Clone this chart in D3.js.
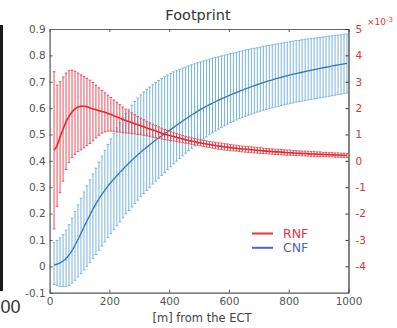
<!DOCTYPE html>
<html><head><meta charset="utf-8">
<script src="https://cdn.jsdelivr.net/npm/d3@7"></script>
<style>
html,body{margin:0;padding:0;background:#fff;}
svg{display:block;font-family:"DejaVu Sans",sans-serif;}
</style></head><body>
<svg id="chart" width="397" height="328"></svg>
<script>
// Sampling positions along the transect [m from the ECT]
const distance = d3.range(15, 1000, 10);

// RNF (right axis, ×10^-3): mean and error-bar bounds
const rnfMean = [
0.40,0.58,0.90,1.20,1.48,1.68,1.85,1.97,2.04,2.07,
2.07,2.05,2.01,1.97,1.94,1.90,1.87,1.84,1.80,1.76,
1.71,1.66,1.62,1.57,1.53,1.49,1.45,1.41,1.37,1.33,
1.29,1.25,1.21,1.17,1.13,1.09,1.05,1.01,0.98,0.95,
0.92,0.89,0.86,0.83,0.80,0.77,0.75,0.73,0.70,0.68,
0.66,0.64,0.62,0.60,0.58,0.56,0.55,0.53,0.52,0.50,
0.49,0.48,0.46,0.45,0.44,0.43,0.42,0.41,0.40,0.39,
0.38,0.37,0.36,0.35,0.34,0.34,0.33,0.32,0.31,0.31,
0.30,0.29,0.29,0.28,0.28,0.27,0.26,0.26,0.25,0.25,
0.24,0.24,0.23,0.23,0.22,0.22,0.21,0.21,0.20];
const rnfHigh = [
3.38,2.87,3.00,3.18,3.33,3.42,3.44,3.40,3.33,3.26,
3.20,3.13,3.06,2.97,2.87,2.77,2.67,2.58,2.49,2.40,
2.31,2.22,2.13,2.04,1.96,1.89,1.82,1.75,1.68,1.62,
1.56,1.50,1.44,1.39,1.34,1.29,1.24,1.19,1.15,1.11,
1.07,1.03,0.99,0.96,0.93,0.90,0.87,0.85,0.82,0.80,
0.78,0.76,0.74,0.72,0.70,0.68,0.67,0.65,0.64,0.62,
0.60,0.59,0.57,0.56,0.55,0.54,0.53,0.52,0.51,0.50,
0.48,0.47,0.46,0.45,0.44,0.44,0.43,0.42,0.41,0.41,
0.39,0.38,0.38,0.37,0.37,0.36,0.35,0.35,0.34,0.34,
0.32,0.32,0.31,0.31,0.30,0.30,0.29,0.29,0.28];
const rnfLow = [
-2.58,-1.72,-1.21,-0.77,-0.33,-0.07,0.12,0.25,0.35,0.42,
0.50,0.58,0.66,0.76,0.87,0.97,1.05,1.10,1.13,1.13,
1.12,1.10,1.09,1.07,1.06,1.05,1.03,1.02,1.00,0.99,
0.97,0.95,0.93,0.90,0.88,0.86,0.83,0.81,0.79,0.77,
0.75,0.73,0.71,0.69,0.67,0.65,0.63,0.61,0.59,0.57,
0.54,0.52,0.50,0.48,0.46,0.44,0.43,0.41,0.40,0.38,
0.38,0.37,0.35,0.34,0.33,0.32,0.31,0.30,0.29,0.28,
0.28,0.27,0.26,0.25,0.24,0.24,0.23,0.22,0.21,0.21,
0.21,0.20,0.20,0.19,0.19,0.18,0.17,0.17,0.16,0.16,
0.16,0.16,0.15,0.15,0.14,0.14,0.13,0.13,0.12];

// CNF (left axis): mean and error-bar bounds
const cnfMean = [
0.005,0.008,0.013,0.020,0.030,0.043,0.060,0.080,0.102,0.125,
0.149,0.172,0.195,0.217,0.237,0.256,0.273,0.289,0.304,0.318,
0.331,0.344,0.356,0.368,0.380,0.391,0.402,0.413,0.423,0.433,
0.443,0.452,0.461,0.470,0.479,0.487,0.495,0.503,0.511,0.519,
0.527,0.535,0.543,0.551,0.559,0.566,0.574,0.581,0.588,0.595,
0.601,0.607,0.613,0.619,0.624,0.630,0.635,0.640,0.645,0.650,
0.655,0.659,0.664,0.668,0.673,0.677,0.681,0.685,0.689,0.693,
0.697,0.700,0.704,0.707,0.711,0.714,0.717,0.720,0.723,0.726,
0.729,0.731,0.734,0.736,0.739,0.741,0.744,0.746,0.748,0.751,
0.753,0.755,0.757,0.760,0.762,0.764,0.766,0.768,0.770];
const cnfHigh = [
0.090,0.098,0.108,0.120,0.137,0.158,0.182,0.208,0.233,0.258,
0.282,0.305,0.328,0.350,0.372,0.395,0.418,0.440,0.462,0.483,
0.504,0.525,0.545,0.563,0.580,0.596,0.611,0.625,0.638,0.650,
0.661,0.671,0.680,0.689,0.697,0.705,0.712,0.719,0.725,0.731,
0.737,0.742,0.747,0.752,0.756,0.760,0.764,0.768,0.772,0.775,
0.779,0.782,0.786,0.789,0.792,0.795,0.798,0.801,0.804,0.807,
0.809,0.812,0.815,0.817,0.820,0.822,0.825,0.827,0.829,0.831,
0.834,0.836,0.838,0.840,0.842,0.844,0.846,0.848,0.850,0.852,
0.854,0.856,0.857,0.859,0.861,0.862,0.864,0.865,0.867,0.868,
0.870,0.871,0.873,0.874,0.876,0.877,0.878,0.880,0.881];
const cnfLow = [
-0.069,-0.073,-0.076,-0.077,-0.076,-0.072,-0.064,-0.053,-0.040,-0.028,
-0.014,0.000,0.014,0.029,0.045,0.061,0.077,0.093,0.109,0.124,
0.139,0.154,0.169,0.184,0.199,0.212,0.225,0.238,0.251,0.264,
0.276,0.288,0.300,0.312,0.323,0.334,0.345,0.356,0.367,0.378,
0.389,0.399,0.409,0.419,0.429,0.439,0.448,0.457,0.466,0.475,
0.483,0.491,0.499,0.506,0.513,0.520,0.527,0.533,0.539,0.545,
0.550,0.555,0.560,0.565,0.569,0.573,0.577,0.581,0.585,0.588,
0.592,0.595,0.598,0.601,0.604,0.607,0.610,0.613,0.615,0.618,
0.620,0.623,0.625,0.627,0.629,0.631,0.633,0.635,0.637,0.639,
0.641,0.643,0.645,0.647,0.649,0.651,0.653,0.655,0.657];

const xTicks = [0, 200, 400, 600, 800, 1000];
const leftTicks = [-0.1, 0, 0.1, 0.2, 0.3, 0.4, 0.5, 0.6, 0.7, 0.8, 0.9];
const rightTicks = [-4, -3, -2, -1, 0, 1, 2, 3, 4, 5];
const legendNames = ["RNF", "CNF"];
const legendColors = ["#e8353a", "#5560cc"];

const svg = d3.select("#chart");
const L = 49.6, R = 348.5, T = 29, B = 292.7;

const x = d3.scaleLinear().domain([0, 1000]).range([L, R]);
const yL = d3.scaleLinear().domain([-0.1, 0.9]).range([B, T]);
const yR = d3.scaleLinear().domain([-5, 5]).range([B, T]);

// plain hyphen for negative tick labels
const hyphen = f => d => f(d).replace("\u2212", "-");

// neighbouring panel edge on the left
svg.append("rect").attr("x", 0).attr("y", 25).attr("width", 3).attr("height", 266).attr("fill", "#1a1a1a");
svg.append("text").attr("x", 0.5).attr("y", 313).attr("text-anchor", "start")
  .attr("font-family", "Liberation Sans").attr("font-size", 18).attr("fill", "#333").text("00");

// error bars + mean line for one series
function drawSeries(mean, lo, hi, y, barColor, lineColor, lineW) {
  const g = svg.append("g");
  const cap = 1.3;
  distance.forEach((d, i) => {
    const xp = x(d);
    g.append("line").attr("x1", xp).attr("x2", xp)
      .attr("y1", y(lo[i])).attr("y2", y(hi[i]))
      .attr("stroke", barColor).attr("stroke-width", 0.95);
    [lo[i], hi[i]].forEach(v => {
      g.append("line").attr("x1", xp - cap).attr("x2", xp + cap)
        .attr("y1", y(v)).attr("y2", y(v))
        .attr("stroke", barColor).attr("stroke-width", 0.95);
    });
  });
  const line = d3.line().x((d, i) => x(distance[i])).y(d => y(d)).curve(d3.curveMonotoneX);
  g.append("path").datum(mean).attr("d", line)
    .attr("fill", "none").attr("stroke", lineColor).attr("stroke-width", lineW);
}

drawSeries(cnfMean, cnfLow, cnfHigh, yL, "#6eb0df", "#3475b3", 1.3);
drawSeries(rnfMean, rnfLow, rnfHigh, yR, "#e94550", "#e8262c", 1.6);

// axes
const tickFont = 10.5;
const gLeft = svg.append("g").attr("transform", `translate(${L},0)`)
  .call(d3.axisLeft(yL).tickValues(leftTicks).tickSize(-3).tickSizeOuter(0).tickPadding(4)
    .tickFormat(d => d === 0 ? "0" : hyphen(d3.format(".1f"))(d)));
const gBottom = svg.append("g").attr("transform", `translate(0,${B})`)
  .call(d3.axisBottom(x).tickValues(xTicks).tickSize(-3).tickSizeOuter(0).tickPadding(5)
    .tickFormat(d3.format("d")));
const gTop = svg.append("g").attr("transform", `translate(0,${T})`)
  .call(d3.axisTop(x).tickValues(xTicks).tickSize(-3).tickSizeOuter(0).tickFormat(""));
const gRight = svg.append("g").attr("transform", `translate(${R},0)`)
  .call(d3.axisRight(yR).tickValues(rightTicks).tickSize(-3).tickSizeOuter(0).tickPadding(7)
    .tickFormat(hyphen(d3.format("d"))));

[gLeft, gBottom].forEach(g => {
  g.selectAll("text").attr("font-size", tickFont).attr("fill", "#555").attr("font-family", "DejaVu Sans");
  g.selectAll("line").attr("stroke", "#555");
  g.select(".domain").attr("stroke", "#555").attr("stroke-width", 1.2);
});
gTop.selectAll("line").attr("stroke", "#555");
gTop.select(".domain").attr("stroke", "#666").attr("stroke-width", 1);
gRight.selectAll("text").attr("font-size", tickFont).attr("fill", "#d2363c").attr("font-family", "DejaVu Sans");
gRight.selectAll("line").attr("stroke", "#333");
gRight.select(".domain").attr("stroke", "#333").attr("stroke-width", 1.2);

// exponent label for the right axis
const expo = svg.append("text").attr("x", 367).attr("y", 25).attr("font-size", 9).attr("fill", "#d2363c");
expo.append("tspan").text("×10");
expo.append("tspan").attr("dy", -3.5).attr("font-size", 7).text("-3");

// title and x label
svg.append("text").attr("x", 198).attr("y", 20).attr("text-anchor", "middle")
  .attr("font-size", 14.5).attr("fill", "#333").text("Footprint");
svg.append("text").attr("x", 202).attr("y", 322).attr("text-anchor", "middle")
  .attr("font-size", 11.5).attr("fill", "#444").text("[m] from the ECT");

// legend
const lg = svg.append("g");
legendNames.forEach((n, i) => {
  const yy = 233.5 + i * 14.3;
  lg.append("line").attr("x1", 252).attr("x2", 273).attr("y1", yy).attr("y2", yy)
    .attr("stroke", legendColors[i]).attr("stroke-width", 2);
  lg.append("text").attr("x", 283).attr("y", yy + 4.5).attr("font-size", 12.5)
    .attr("fill", legendColors[i]).text(n);
});
</script>
</body></html>
